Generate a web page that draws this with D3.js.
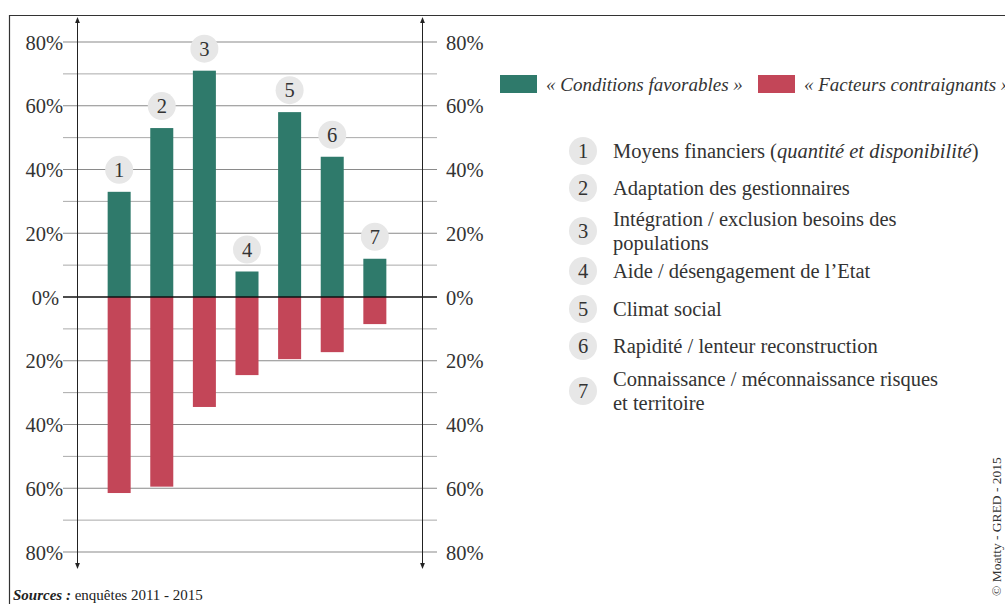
<!DOCTYPE html>
<html><head><meta charset="utf-8">
<script src="https://cdn.jsdelivr.net/npm/d3@7"></script>
<style>
body{margin:0;background:#fff}svg{display:block}
svg text{font-family:"Liberation Serif","Times New Roman","DejaVu Serif",serif !important;}
</style>
</head><body>
<svg id="c" width="1005" height="604"></svg>
<script>
const categories = ["1","2","3","4","5","6","7"];
const favorables = [33, 53, 71, 8, 58, 44, 12];
const contraignants = [61.5, 59.5, 34.5, 24.5, 19.5, 17.3, 8.5];
const tickValues = [80, 60, 40, 20, 0, -20, -40, -60, -80];
const minorTicks = [70, 50, 30, 10, -10, -30, -50, -70];
const legendSeries = ["« Conditions favorables »", "« Facteurs contraignants »"];
const itemLabels = [
  ["Moyens financiers (", "quantité et disponibilité", ")"],
  ["Adaptation des gestionnaires"],
  ["Intégration / exclusion besoins des", "populations"],
  ["Aide / désengagement de l’Etat"],
  ["Climat social"],
  ["Rapidité / lenteur reconstruction"],
  ["Connaissance / méconnaissance risques", "et territoire"]
];
const GREEN = "#2f7a6b", RED = "#c34658", CIRC = "#e7e7e7";
const FONT = "Liberation Serif";

const svg = d3.select("#c");
svg.append("defs").append("marker").attr("id","arr").attr("viewBox","0 0 10 10")
  .attr("refX",5).attr("refY",5).attr("markerWidth",6).attr("markerHeight",6).attr("orient","auto")
  .append("path").attr("d","M0,1 L10,5 L0,9 z").attr("fill","#222");

svg.append("path").attr("d","M9.5,604 L9.5,15.5 L1005,15.5").attr("fill","none").attr("stroke","#333").attr("stroke-width",1.2);

const y = d3.scaleLinear().domain([-80, 80]).range([552, 42]);
const x = d3.scaleBand().domain(categories).range([97, 397]).paddingInner(0.46).paddingOuter(0.25);

svg.selectAll(".minor").data(minorTicks).join("line")
  .attr("x1",63).attr("x2",437).attr("y1",d=>y(d)).attr("y2",d=>y(d))
  .attr("stroke","#aaa").attr("stroke-width",1);
svg.selectAll(".major").data(tickValues.filter(d=>d!==0)).join("line")
  .attr("x1",63).attr("x2",437).attr("y1",d=>y(d)).attr("y2",d=>y(d))
  .attr("stroke","#8a8a8a").attr("stroke-width",1.1);

const fmt = d => Math.abs(d) + "%";
const leftAx = svg.append("g").attr("transform","translate(63,0)")
  .call(d3.axisLeft(y).tickValues(tickValues).tickFormat(fmt).tickSize(0).tickPadding(0));
const rightAx = svg.append("g").attr("transform","translate(446,0)")
  .call(d3.axisRight(y).tickValues(tickValues).tickFormat(fmt).tickSize(0).tickPadding(0));
[leftAx, rightAx].forEach(g => {
  g.select(".domain").remove();
  g.attr("font-family",FONT).attr("font-size",20.5);
  g.selectAll("text").attr("fill","#333").attr("dy","0.35em");
});
leftAx.selectAll("text").filter(d=>d===0).attr("dx",-4);

svg.selectAll(".fav").data(favorables).join("rect")
  .attr("x",(d,i)=>x(categories[i])).attr("width",x.bandwidth())
  .attr("y",d=>y(d)).attr("height",d=>y(0)-y(d)).attr("fill",GREEN);
svg.selectAll(".con").data(contraignants).join("rect")
  .attr("x",(d,i)=>x(categories[i])).attr("width",x.bandwidth())
  .attr("y",y(0)).attr("height",d=>y(-d)-y(0)).attr("fill",RED);

svg.append("line").attr("x1",63).attr("x2",437).attr("y1",y(0)).attr("y2",y(0)).attr("stroke","#111").attr("stroke-width",1.6);

[77.5, 422.5].forEach(xx => {
  svg.append("line").attr("x1",xx).attr("x2",xx).attr("y1",y(0)).attr("y2",20).attr("stroke","#222").attr("stroke-width",1).attr("marker-end","url(#arr)");
  svg.append("line").attr("x1",xx).attr("x2",xx).attr("y1",y(0)).attr("y2",566).attr("stroke","#222").attr("stroke-width",1).attr("marker-end","url(#arr)");
});

const lab = svg.selectAll(".lab").data(favorables).join("g")
  .attr("transform",(d,i)=>`translate(${x(categories[i])+x.bandwidth()/2},${y(d)-22})`);
lab.append("circle").attr("r",14).attr("fill",CIRC);
lab.append("text").text((d,i)=>categories[i]).attr("text-anchor","middle").attr("dy","0.35em")
  .attr("font-size",20.5).attr("fill","#333");

const lx = [500, 758];
legendSeries.forEach((s,i)=>{
  svg.append("rect").attr("x",lx[i]).attr("y",75).attr("width",37).attr("height",18).attr("fill",[GREEN,RED][i]);
  svg.append("text").attr("x",lx[i]+46).attr("y",84).attr("dy","0.35em").text(s)
    .attr("font-style","italic").attr("font-size",19).attr("fill","#333");
});

const listY = [151, 188, 231, 271, 309, 346, 391];
itemLabels.forEach((lines,i)=>{
  const g = svg.append("g").attr("transform",`translate(583,${listY[i]})`);
  g.append("circle").attr("r",14).attr("fill",CIRC);
  g.append("text").text(categories[i]).attr("text-anchor","middle").attr("dy","0.35em")
    .attr("font-size",20.5).attr("fill","#333");
  if (i === 0) {
    const t = g.append("text").attr("x",30).attr("dy","0.35em").attr("font-size",20.5).attr("fill","#333");
    t.append("tspan").text(lines[0]);
    t.append("tspan").attr("font-style","italic").text(lines[1]);
    t.append("tspan").text(lines[2]);
  } else {
    const n = lines.length;
    lines.forEach((l,j)=>{
      g.append("text").attr("x",30).attr("y",(j-(n-1)/2)*24.5).attr("dy","0.35em").text(l)
        .attr("font-size",20.5).attr("fill","#333");
    });
  }
});

const src = svg.append("text").attr("x",13).attr("y",600).attr("font-size",15).attr("fill","#222");
src.append("tspan").attr("font-weight","bold").attr("font-style","italic").text("Sources :");
src.append("tspan").text(" enquêtes 2011 - 2015");

svg.append("text").attr("transform","translate(1001,596) rotate(-90)").text("© Moatty - GRED - 2015")
  .attr("font-size",13.5).attr("fill","#333");
</script>
</body></html>
